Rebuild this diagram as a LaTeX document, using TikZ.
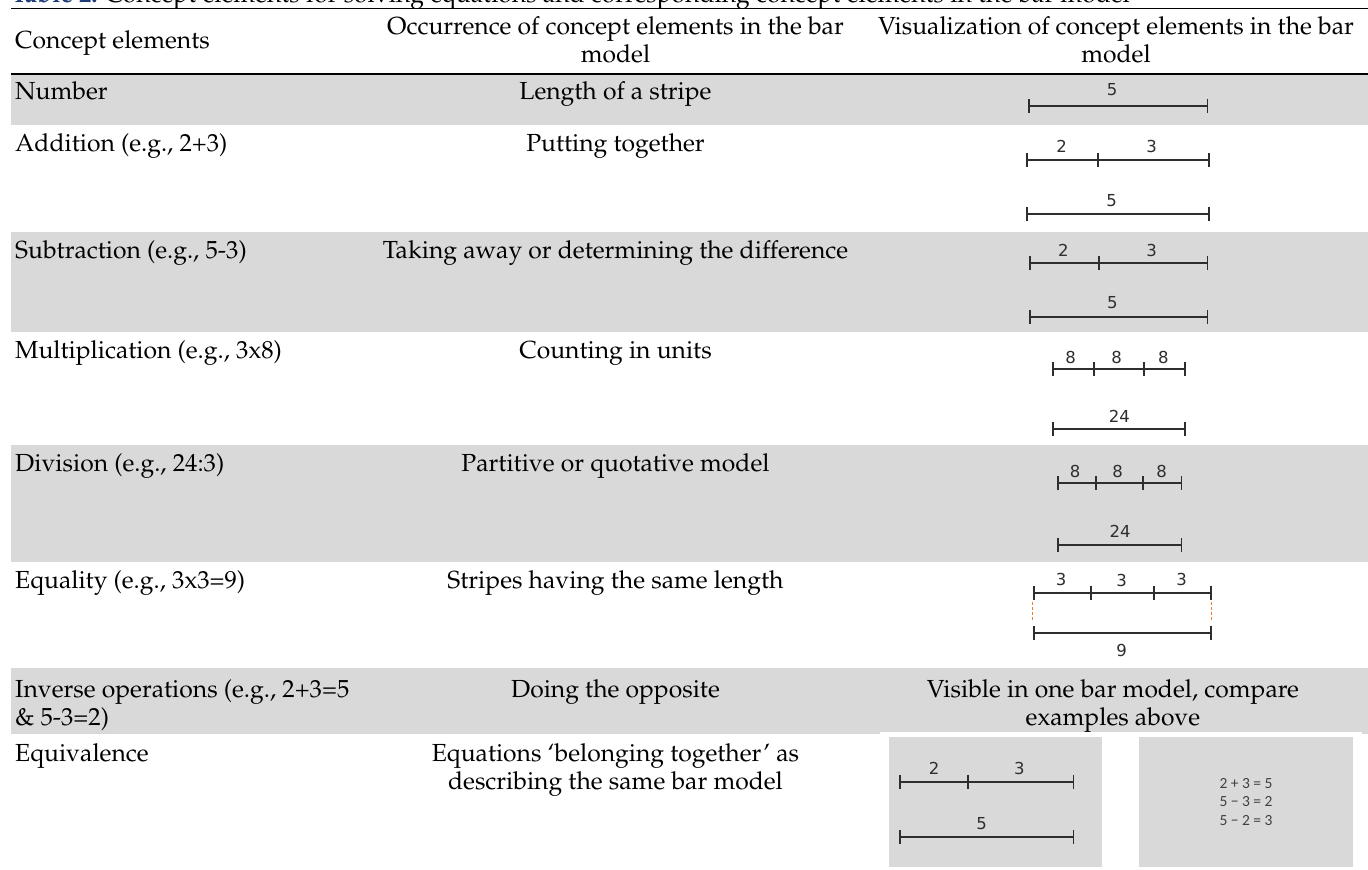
\documentclass[tikz,border=0pt]{standalone}
\usepackage[T1]{fontenc}
\usepackage{fontspec}
\usetikzlibrary{arrows.meta}
\newfontfamily\barfont{DejaVu Sans}
\newfontfamily\eqfont{Carlito}
\newcommand\palfont{\fontencoding{T1}\fontfamily{ppl}\selectfont}
\definecolor{rowgray}{HTML}{D9D9D9}
\definecolor{titleblue}{HTML}{1F3A78}
\definecolor{tickgray}{HTML}{2E2E2E}
\definecolor{eqgray}{HTML}{404040}
\definecolor{dashorange}{HTML}{ED7D31}
\newcommand\tickat[2]{\draw[tickline] (#1,#2) ++(0,-7) -- ++(0,14);}
\begin{document}
\begin{tikzpicture}[x=1pt,y=-1pt,
  txt/.style={font=\palfont\fontsize{24.7}{28}\selectfont, inner sep=0pt},
  lft/.style={txt, anchor=base west},
  ctr/.style={txt, anchor=base, align=center},
  barlab/.style={font=\barfont\fontsize{16.5}{19}\selectfont, text=tickgray, inner sep=0pt},
  barline/.style={draw=tickgray, line width=1.8pt, arrows={Bar[width=14pt,line width=1.8pt]-Bar[width=14pt,line width=1.8pt]}},
  tickline/.style={draw=tickgray, line width=1.8pt},
  rule/.style={line width=1.6pt, black},
  imgbox/.style={fill=rowgray}]
\clip (0,0) rectangle (1368,870);
\fill[white] (0,0) rectangle (1368,870);
% row backgrounds
\fill[rowgray] (11,74) rectangle (1368,125);
\fill[rowgray] (11,232) rectangle (1368,332);
\fill[rowgray] (11,445) rectangle (1368,562);
\fill[rowgray] (11,668) rectangle (1368,734);
% title (cut at top)
\node[txt, anchor=base west] (title) at (11,2.5)
  {\textcolor{titleblue}{\bfseries Table 2.} Concept elements for solving equations and corresponding concept elements in the bar model};
% rules
\draw[rule] (11,8.5) -- (1368,8.5);
\draw[rule] (11,74) -- (1368,74);
% header (base anchor = baseline of last line)
\node[lft] (h1) at (15,48) {Concept elements};
\node[ctr] (h2) at (615.5,62) {Occurrence of concept elements in the bar\\model};
\node[ctr] (h3) at (1116,62) {Visualization of concept elements in the bar\\model};
% columns 1 and 2
\node[lft] (c1r1) at (15,99) {Number};
\node[ctr] (c2r1) at (615.5,99) {Length of a stripe};
\node[lft] (c1r2) at (15,151) {Addition (e.g., 2+3)};
\node[ctr] (c2r2) at (615.5,151) {Putting together};
\node[lft] (c1r3) at (15,258) {Subtraction (e.g., 5-3)};
\node[ctr] (c2r3) at (615.5,258) {Taking away or determining the difference};
\node[lft] (c1r4) at (15,358) {Multiplication (e.g., 3x8)};
\node[ctr] (c2r4) at (615.5,358) {Counting in units};
\node[lft] (c1r5) at (15,471) {Division (e.g., 24:3)};
\node[ctr] (c2r5) at (615.5,471) {Partitive or quotative model};
\node[lft] (c1r6) at (15,588) {Equality (e.g., 3x3=9)};
\node[ctr] (c2r6) at (615.5,588) {Stripes having the same length};
\node[lft, align=left] (c1r7) at (15,725) {Inverse operations (e.g., 2+3=5\\\& 5-3=2)};
\node[ctr] (c2r7) at (615.5,697) {Doing the opposite};
\node[ctr] (c3r7) at (1113,725) {Visible in one bar model, compare\\examples above};
\node[lft] (c1r8) at (15,761) {Equivalence};
\node[ctr] (c2r8) at (615.5,789) {Equations `belonging together' as\\describing the same bar model};
% Number
\draw[barline] (1027.7,105.7) -- (1208.3,105.7);
\node[barlab] (n5) at (1112,90) {5};
% Addition
\draw[barline] (1025.7,160) -- (1210,160);
\tickat{1097.7}{160}
\node[barlab] (a2) at (1061.7,146) {2};
\node[barlab] (a3) at (1151.7,146) {3};
\draw[barline] (1025.7,214.3) -- (1210,214.3);
\node[barlab] (a5) at (1111.7,200.7) {5};
% Subtraction
\draw[barline] (1029,263.3) -- (1208.3,263.3);
\tickat{1099}{263.3}
\node[barlab] (s2) at (1063.3,250) {2};
\node[barlab] (s3) at (1151.7,250) {3};
\draw[barline] (1029,316.7) -- (1208.3,316.7);
\node[barlab] (s5) at (1112.3,302.7) {5};
% Multiplication
\draw[barline] (1051.7,369) -- (1186,369);
\tickat{1094}{369}
\tickat{1144}{369}
\node[barlab] (m8a) at (1070.7,357.3) {8};
\node[barlab] (m8b) at (1116.7,357.3) {8};
\node[barlab] (m8c) at (1163.3,357.3) {8};
\draw[barline] (1051.7,429) -- (1186,429);
\node[barlab] (m24) at (1119.3,416.7) {24};
% Division
\draw[barline] (1057.3,483.3) -- (1182.3,483.3);
\tickat{1096}{483.3}
\tickat{1143.3}{483.3}
\node[barlab] (d8a) at (1075,471.7) {8};
\node[barlab] (d8b) at (1117.7,471.7) {8};
\node[barlab] (d8c) at (1161.7,471.7) {8};
\draw[barline] (1057.3,545) -- (1182.3,545);
\node[barlab] (d24) at (1120,531.7) {24};
% Equality
\draw[barline] (1032.7,592.7) -- (1211.7,592.7);
\tickat{1090.7}{592.7}
\tickat{1154.3}{592.7}
\node[barlab] (e3a) at (1061,579.5) {3};
\node[barlab] (e3b) at (1121.7,580.5) {3};
\node[barlab] (e3c) at (1181.7,579.5) {3};
\draw[dashorange, line width=1pt, dash pattern=on 3pt off 2pt] (1032.7,601.7) -- (1032.7,621.7);
\draw[dashorange, line width=1pt, dash pattern=on 3pt off 2pt] (1211.7,601.7) -- (1211.7,621.7);
\draw[barline] (1032.7,632.7) -- (1211.7,632.7);
\node[barlab] (e9) at (1121.7,650.7) {9};
% Equivalence images
\fill[white] (880,731.5) rectangle (1362,870);
\fill[imgbox] (889.3,736.7) rectangle (1101.7,867.3);
\fill[imgbox] (1139.3,736.7) rectangle (1353.3,867.3);
\draw[barline] (899.3,781.7) -- (1074.3,781.7);
\tickat{967.7}{781.7}
\node[barlab] (q2) at (934,768.3) {2};
\node[barlab] (q3) at (1019.3,768.3) {3};
\draw[barline] (899.3,836.7) -- (1074.3,836.7);
\node[barlab] (q5) at (981.7,823.3) {5};
\node[font=\eqfont\fontsize{15.5}{18.4}\selectfont, text=eqgray, align=left, inner sep=0pt] (eqs) at (1246,801.7)
  {2 + 3 = 5\\5 − 3 = 2\\5 − 2 = 3};
\end{tikzpicture}
\end{document}
